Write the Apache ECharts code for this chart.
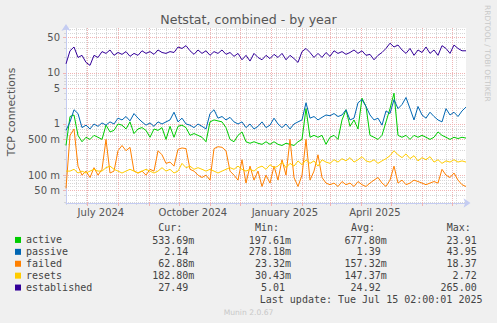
<!DOCTYPE html>
<html><head><meta charset="utf-8">
<script src="https://cdn.jsdelivr.net/npm/echarts@6/dist/echarts.min.js"></script>
<style>html,body{margin:0;padding:0;background:#f0f0f0;}#c{width:497px;height:323px;}</style>
</head><body><div id="c"></div>
<script>
// ---- data ----
const seriesNames = ['active', 'passive', 'failed', 'resets', 'established'];
const seriesColors = ['#00CC00', '#0066B3', '#FF8000', '#FFCC00', '#330099'];
const startDate = new Date(2024, 5, 10, 2, 0, 1);
const endDate = new Date(2025, 6, 15, 2, 0, 1);
const stepDays = 4;

const active = [0.38,1.4,1.5,0.6,0.45,0.55,0.5,0.6,0.55,0.5,0.95,0.7,0.75,1.0,0.95,0.8,1.1,0.65,0.8,0.85,0.75,0.55,0.8,0.75,0.85,0.5,0.9,0.55,0.9,0.95,0.85,0.6,0.65,0.6,0.55,0.45,1.1,1.2,1.15,1.1,0.85,0.5,0.45,0.6,0.7,0.45,0.42,0.45,0.42,0.4,0.45,0.4,0.45,0.4,0.38,0.42,0.4,0.38,0.45,0.5,2.0,0.55,0.6,0.55,0.6,0.4,0.55,0.6,0.5,1.2,1.9,0.9,1.2,0.8,3.2,2.2,0.6,0.55,0.5,0.6,1.1,2.0,4.0,0.6,0.55,0.6,0.5,0.6,0.55,0.6,0.55,0.5,0.55,0.7,0.6,0.55,0.5,0.55,0.52,0.55,0.53];
const passive = [0.75,1.1,1.9,1.6,0.85,0.95,0.8,1.0,0.9,1.05,0.95,1.1,1.0,1.3,1.2,1.4,1.15,1.6,1.3,1.1,0.95,1.05,0.9,1.1,1.0,1.1,1.2,1.7,1.1,1.3,1.0,0.95,0.85,1.0,0.9,0.8,1.6,1.9,1.3,1.4,1.2,1.35,1.1,1.0,1.1,0.85,1.0,0.8,0.9,1.1,0.85,0.95,1.3,1.0,0.85,1.0,0.8,1.0,1.1,1.2,2.6,1.3,1.4,1.2,1.35,1.5,1.45,1.6,1.4,1.5,1.9,1.2,1.3,2.6,3.0,2.2,1.5,1.2,1.3,0.95,1.8,1.6,3.0,2.0,2.4,3.3,2.0,1.2,2.2,1.5,1.3,1.7,1.4,1.2,1.1,2.0,1.5,1.7,1.4,1.8,2.14];
const failed = [0.055,0.6,0.8,0.15,0.1,0.12,0.09,0.14,0.1,0.13,0.5,0.11,0.12,0.3,0.38,0.3,0.35,0.12,0.11,0.12,0.1,0.13,0.12,0.3,0.25,0.17,0.18,0.15,0.32,0.34,0.33,0.13,0.12,0.1,0.09,0.1,0.08,0.33,0.36,0.35,0.3,0.12,0.1,0.08,0.2,0.07,0.15,0.08,0.12,0.06,0.1,0.07,0.15,0.08,0.2,0.1,0.5,0.09,0.06,0.1,0.5,0.08,0.12,0.25,0.09,0.07,0.065,0.07,0.06,0.075,0.065,0.07,0.06,0.075,0.065,0.06,0.07,0.08,0.09,0.07,0.06,0.08,0.15,0.07,0.08,0.065,0.07,0.08,0.075,0.07,0.065,0.07,0.075,0.07,0.13,0.1,0.09,0.11,0.08,0.065,0.06];
const resets = [0.12,0.12,0.13,0.11,0.12,0.11,0.12,0.13,0.12,0.12,0.14,0.15,0.13,0.12,0.11,0.12,0.13,0.12,0.11,0.12,0.13,0.12,0.11,0.12,0.14,0.12,0.13,0.11,0.12,0.17,0.14,0.15,0.13,0.14,0.13,0.12,0.13,0.12,0.11,0.12,0.13,0.14,0.13,0.15,0.13,0.12,0.13,0.12,0.14,0.15,0.13,0.16,0.14,0.15,0.18,0.14,0.17,0.15,0.19,0.16,0.2,0.17,0.19,0.15,0.2,0.18,0.17,0.2,0.18,0.21,0.19,0.22,0.18,0.2,0.23,0.19,0.18,0.2,0.17,0.19,0.21,0.24,0.3,0.25,0.22,0.26,0.21,0.24,0.19,0.22,0.2,0.23,0.18,0.2,0.17,0.19,0.18,0.2,0.18,0.19,0.18];
const established = [15,27,32,20,22,16,14,22,20,26,24,28,22,25,23,26,21,24,22,27,24,26,23,28,25,24,26,25,32,30,34,27,23,28,24,27,22,26,24,28,23,25,21,24,18,22,17,24,20,18,22,19,23,20,24,18,22,19,16,26,30,25,20,24,20,25,21,27,24,26,23,25,28,24,27,22,23,18,22,25,30,38,32,35,28,24,30,22,28,25,32,24,28,22,34,30,24,35,30,27,27];
const seriesValues = [active, passive, failed, resets, established];

const yMajorTicks = [0.05, 0.1, 0.5, 1, 5, 10, 50];
const yMinorTicks = [0.03,0.04,0.06,0.07,0.08,0.09,0.2,0.3,0.4,0.6,0.7,0.8,0.9,2,3,4,6,7,8,9,20,30,40,60,70];
const xLabelDates = [new Date(2024, 6, 15), new Date(2024, 9, 15), new Date(2025, 0, 15), new Date(2025, 3, 15)];
const monthNames = ['January','February','March','April','May','June','July','August','September','October','November','December'];

const legendCur = ['533.69m', '2.14', '62.88m', '182.80m', '27.49'];
const legendMin = ['197.61m', '278.18m', '23.32m', '30.43m', '5.01'];
const legendAvg = ['677.80m', '1.39', '157.32m', '147.37m', '24.92'];
const legendMax = ['23.91', '43.95', '18.37', '2.72', '265.00'];
const legendHeaders = ['Cur:', 'Min:', 'Avg:', 'Max:'];
const titleText = 'Netstat, combined - by year';
const yAxisTitle = 'TCP connections';
const lastUpdate = 'Last update: Tue Jul 15 02:00:01 2025';
const footer = 'Munin 2.0.67';
const watermark = 'RRDTOOL / TOBI OETIKER';

// ---- layout ----
const DAY = 86400000;
const t0 = startDate.getTime();
const toDay = t => (t - t0) / DAY;           // x axis unit: days since start
const spanDays = toDay(endDate.getTime());
const monthStarts = [];
for (let m = 6; m <= 18; m++) monthStarts.push(toDay(new Date(2024, m, 1).getTime()));
const minorX = [];
for (let d = 0.7; d < spanDays; d += 10) minorX.push(d);

const mono = '"DejaVu Sans Mono", monospace';
const sans = '"DejaVu Sans", sans-serif';
const txtColor = '#555';
const major = '#f0b4b4';
const minor = '#d6d6d6';
const axisCol = '#c4ccf2';

const series = seriesNames.map((n, si) => ({
  name: n, type: 'line', xAxisIndex: 0, yAxisIndex: 0,
  showSymbol: false, symbol: 'none', animation: false, z: 3,
  color: seriesColors[si],
  lineStyle: { width: 1, color: seriesColors[si] },
  data: seriesValues[si].map((v, i) => [i * stepDays, v])
}));

const colRight = [194.3, 291, 386.7, 482.7];
const headerLeft = [158.3, 255, 351, 446.7];
const rowY = [240, 251.9, 263.8, 275.7, 287.6];
const graphics = [];
const txt = (x, y, text, font, fill, align, rot) => ({ type: 'text', x: x, y: y, rotation: rot || 0,
  style: { text: text, font: font, fill: fill, textAlign: align, textVerticalAlign: 'middle', verticalAlign: 'middle' } });
legendHeaders.forEach((h, c) => graphics.push(txt(headerLeft[c], 227.5, h, '10px ' + mono, '#444', 'left')));
[legendCur, legendMin, legendAvg, legendMax].forEach((col, c) => col.forEach((s, r) => {
  graphics.push(txt(colRight[c] - (s.endsWith('m') ? 0 : 6), rowY[r], s, '10px ' + mono, '#444', 'right'));
}));
graphics.push(txt(482.5, 299.7, lastUpdate, '10px ' + mono, '#444', 'right'));
graphics.push(txt(248.5, 312.5, footer, '7.6px ' + sans, '#c8c8c8', 'center'));
graphics.push(txt(487.5, 5, watermark, '7.5px ' + sans, '#c8c8c8', 'left', -Math.PI / 2));
graphics.push(txt(11.5, 112, yAxisTitle, '10.8px ' + sans, txtColor, 'center', Math.PI / 2));

const yBase = { type: 'log', logBase: 10, min: 0.02854, max: 75.3, gridIndex: 0, position: 'left' };
const xBase = { type: 'value', min: 0, max: spanDays, gridIndex: 0, position: 'bottom' };

const chart = echarts.init(document.getElementById('c'), null, { renderer: 'svg' });
chart.setOption({
  animation: false,
  backgroundColor: '#f0f0f0',
  title: { text: titleText, left: 'center', top: 12, padding: 0,
    textStyle: { fontFamily: sans, fontSize: 12.6, fontWeight: 'normal', color: txtColor, lineHeight: 14 } },
  grid: { left: 66, top: 28, width: 400, height: 175, show: true, backgroundColor: '#ffffff', borderWidth: 0, containLabel: false, outerBoundsMode: 'none' },
  legend: { data: seriesNames, orient: 'vertical', left: 15, top: 234, padding: 0, itemGap: 0,
    itemWidth: 6, itemHeight: 6, icon: 'rect', selectedMode: false,
    itemStyle: { borderWidth: 0 },
    textStyle: { fontFamily: mono, fontSize: 10, color: '#444', lineHeight: 11.9 } },
  xAxis: [
    Object.assign({}, xBase, { z: 1,
      axisLine: { show: true, lineStyle: { color: axisCol, width: 1 }, symbol: ['none', 'arrow'], symbolSize: [7, 7], symbolOffset: [0, 4.5] },
      axisTick: { show: true, length: 3, customValues: monthStarts, lineStyle: { color: major } },
      axisLabel: { show: true, customValues: xLabelDates.map(d => toDay(d.getTime())), margin: 4.5, fontFamily: sans, fontSize: 10, color: txtColor,
        formatter: v => { const d = new Date(t0 + v * DAY); return monthNames[d.getMonth()] + ' ' + d.getFullYear(); } },
      splitLine: { show: true, lineStyle: { color: major, type: [1, 1], width: 1 } } }),
    Object.assign({}, xBase, { z: 0,
      axisLine: { show: false }, axisLabel: { show: false },
      axisTick: { show: true, length: 2, customValues: minorX, lineStyle: { color: minor } },
      splitLine: { show: true, lineStyle: { color: minor, type: [1, 1], width: 1 } } })
  ],
  yAxis: [
    Object.assign({}, yBase, { z: 1,
      axisLine: { show: true, lineStyle: { color: axisCol, width: 1 }, symbol: ['none', 'arrow'], symbolSize: [7, 7], symbolOffset: [0, 4] },
      axisTick: { show: true, length: 3, customValues: yMajorTicks, lineStyle: { color: major } },
      axisLabel: { show: true, customValues: yMajorTicks, margin: 6, fontFamily: sans, fontSize: 10, color: txtColor,
        formatter: v => v >= 1 ? String(Math.round(v)) : Math.round(v * 1000) + ' m' },
      splitLine: { show: true, lineStyle: { color: major, type: [1, 1], width: 1 } } }),
    Object.assign({}, yBase, { z: 0,
      axisLine: { show: false }, axisLabel: { show: false },
      axisTick: { show: true, length: 2, customValues: yMinorTicks, lineStyle: { color: minor } },
      splitLine: { show: true, lineStyle: { color: minor, type: [1, 1], width: 1 } } })
  ],
  series: series,
  graphic: graphics
});
</script></body></html>
